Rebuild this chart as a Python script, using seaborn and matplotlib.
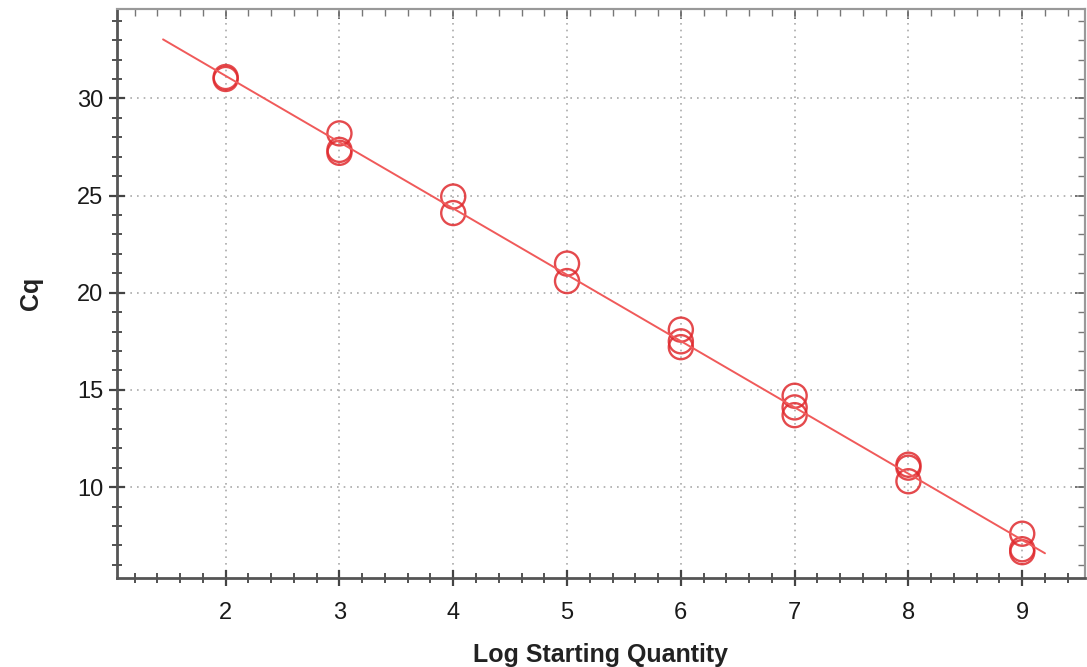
import numpy as np
import pandas as pd
import matplotlib
matplotlib.use("Agg")
import matplotlib.pyplot as plt
from matplotlib.ticker import MultipleLocator
import seaborn as sns

# Data
log_qty = [2, 2, 3, 3, 3, 4, 4, 5, 5, 6, 6, 6, 7, 7, 7, 8, 8, 8, 9, 9, 9]
cq = [31.1, 31.0, 28.2, 27.35, 27.2, 24.95, 24.1, 21.5, 20.6, 18.1, 17.5, 17.2,
      14.7, 14.1, 13.7, 11.15, 11.0, 10.3, 7.6, 6.8, 6.65]
x_ticks = [2, 3, 4, 5, 6, 7, 8, 9]
y_ticks = [10, 15, 20, 25, 30]
fit_range = [1.45, 9.2]

df = pd.DataFrame({"Log Starting Quantity": log_qty, "Cq": cq})
slope, intercept = np.polyfit(log_qty, cq, 1)
fx = np.array(fit_range)
fit_df = pd.DataFrame({"x": fx, "y": slope * fx + intercept})

sns.set_theme(style="white")
plt.rcParams["font.family"] = ["Liberation Sans", "DejaVu Sans"]

fig = plt.figure(figsize=(10.87, 6.67), dpi=100)
ax = fig.add_axes([0.1076, 0.1334, 0.8904, 0.8531])

sns.lineplot(data=fit_df, x="x", y="y", ax=ax, color="#f05a5a", linewidth=1.4)
sns.scatterplot(data=df, x="Log Starting Quantity", y="Cq", ax=ax, s=300,
                facecolors="none", edgecolor="#e02a2e", linewidth=1.7, alpha=0.85,
                marker="o")

ax.set_xlim(1.045, 9.55)
ax.set_ylim(5.32, 34.6)
ax.set_xticks(x_ticks)
ax.set_yticks(y_ticks)
ax.xaxis.set_minor_locator(MultipleLocator(0.2))
ax.yaxis.set_minor_locator(MultipleLocator(1))
ax.grid(True, which="major", linestyle=(0, (1, 3)), color="#aaaaaa", linewidth=1.2)

ax.tick_params(axis="both", which="major", direction="inout", length=12, width=1.6,
               color="#444444", labelsize=17, labelcolor="#1a1a1a",
               bottom=True, left=True, top=False, right=False)
ax.tick_params(axis="x", which="major", pad=11)
ax.tick_params(axis="y", which="major", pad=4)
ax.tick_params(axis="both", which="minor", direction="inout", length=7, width=1.3,
               color="#444444", bottom=True, left=True, top=False, right=False)

# inward-only ticks on the top and right frame
top = ax.secondary_xaxis("top")
top.set_xticks(x_ticks)
top.xaxis.set_minor_locator(MultipleLocator(0.2))
top.tick_params(which="major", direction="in", length=7, width=1.3, color="#666666",
                top=True, labeltop=False)
top.tick_params(which="minor", direction="in", length=5, width=1.0, color="#777777", top=True)
top.spines["top"].set_color("#999999")
top.spines["top"].set_linewidth(1.5)
right = ax.secondary_yaxis("right")
right.set_yticks(y_ticks)
right.yaxis.set_minor_locator(MultipleLocator(1))
right.tick_params(which="major", direction="in", length=7, width=1.3, color="#666666",
                  right=True, labelright=False)
right.tick_params(which="minor", direction="in", length=5, width=1.0, color="#777777", right=True)
right.spines["right"].set_color("#999999")
right.spines["right"].set_linewidth(1.5)

for side in ["left", "bottom"]:
    ax.spines[side].set_color("#555555")
    ax.spines[side].set_linewidth(2)
for side in ["top", "right"]:
    ax.spines[side].set_color("#999999")
    ax.spines[side].set_linewidth(1.5)

ax.set_xlabel("Log Starting Quantity", fontsize=18, fontweight="bold", labelpad=14, color="#222222")
ax.set_ylabel("Cq", fontsize=18, fontweight="bold", labelpad=24, color="#222222")

fig.savefig("out.png", dpi=100)
